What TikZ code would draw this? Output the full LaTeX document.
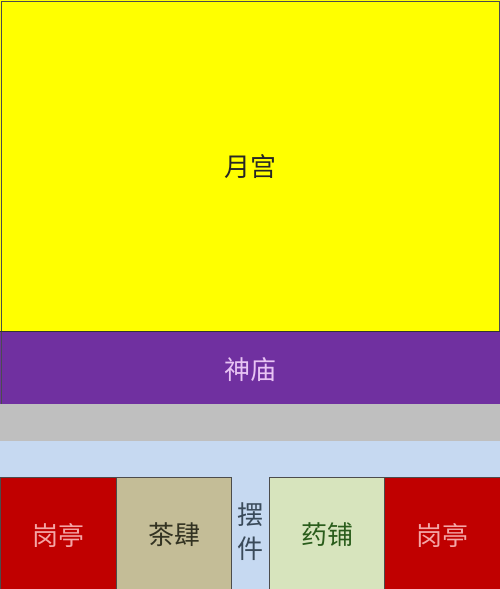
\documentclass[tikz,border=0pt]{standalone}
\usepackage{fontspec}
\newfontfamily\cjk{Noto Sans CJK SC}
\definecolor{yel}{HTML}{FFFF00}
\definecolor{pur}{HTML}{7030A0}
\definecolor{gry}{HTML}{BFBFBF}
\definecolor{lblue}{HTML}{C6D9F1}
\definecolor{redb}{HTML}{C00000}
\definecolor{tanb}{HTML}{C4BD97}
\definecolor{grnb}{HTML}{D7E4BD}
\definecolor{pinkt}{HTML}{F4A6A6}
\definecolor{purt}{HTML}{E8C4F4}
\definecolor{darkt}{HTML}{333322}
\definecolor{bluet}{HTML}{3A4A5A}
\tikzset{
  zone/.style={draw=black!70, line width=0.8pt},
  lbl/.style={font=\cjk\fontsize{26}{30}\selectfont, inner sep=0pt},
}
\begin{document}
\begin{tikzpicture}[x=1pt,y=-1pt]
\useasboundingbox (0,0) rectangle (500,589);
\fill[lblue] (0,0) rectangle (500,589);
\fill[yel] (0,0) rectangle (500,331);
\fill[pur] (0,331) rectangle (500,404);
\fill[gry] (0,404) rectangle (500,441);
\draw[black!70, line width=0.8pt] (1,404) -- (1,1) -- (499,1) -- (499,331);
\draw[black!80, line width=0.6pt] (0,331) -- (500,331);
\node[lbl, text=black!85] (yuegong) at (250,167) {月宫};
\node[lbl, text=purt] (shenmiao) at (250,370) {神庙};
\draw[zone, fill=redb] (0,477) rectangle (116,592);
\draw[zone, fill=tanb] (116,477) rectangle (231,592);
\draw[zone, fill=grnb] (269,477) rectangle (384,592);
\draw[zone, fill=redb] (384,477) rectangle (500,592);
\node[lbl, text=pinkt] (gt1) at (58,535) {岗亭};
\node[lbl, text=darkt] (chasi) at (174,535) {茶肆};
\node[lbl, text=bluet, align=center] (baijian) at (250,532) {摆\\[4pt]件};
\node[lbl, text=darkt!80!green] (yaopu) at (327,535) {药铺};
\node[lbl, text=pinkt] (gt2) at (442,535) {岗亭};
\end{tikzpicture}
\end{document}
